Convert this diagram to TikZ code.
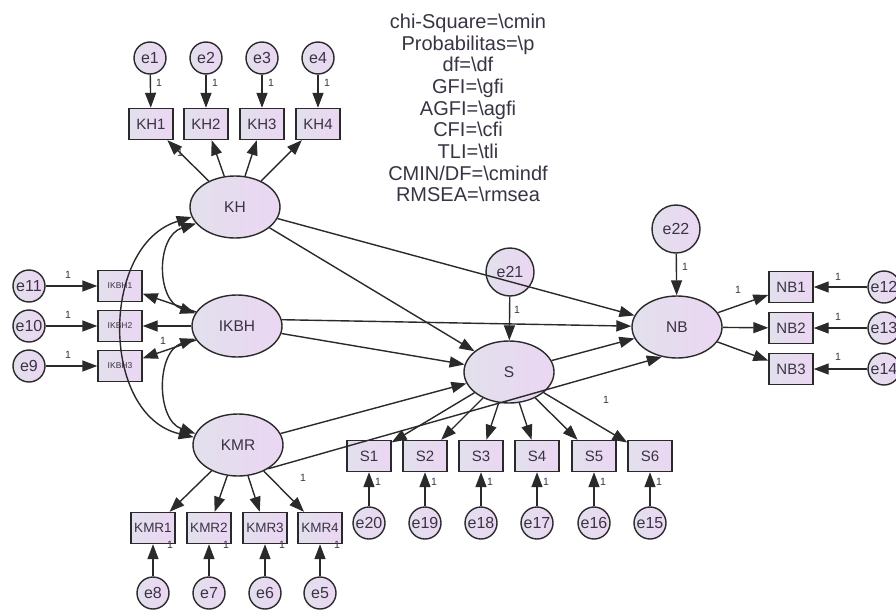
\documentclass[tikz,border=0pt]{standalone}
\usepackage{fontspec}
\setmainfont{Liberation Sans}
\usetikzlibrary{shapes.geometric,arrows.meta}
\definecolor{ln}{HTML}{2A2A2A}
\definecolor{tx}{HTML}{3A3344}
\definecolor{fa}{HTML}{E2E0EC}
\definecolor{fb}{HTML}{EBD6F3}
\tikzset{
 base/.style={draw=ln, line width=1.4pt, text=tx, inner sep=0pt, left color=fa, right color=fb},
 lat/.style={base, ellipse, minimum width=90pt, minimum height=62pt, font=\fontsize{15.5}{18}\selectfont},
 obs/.style={base, rectangle, minimum width=44pt, minimum height=31pt, font=\fontsize{15}{18}\selectfont},
 err/.style={base, circle, minimum size=32pt, font=\fontsize{16}{18}\selectfont},
 bigerr/.style={err, minimum size=48pt},
 arr/.style={draw=ln, line width=1.4pt, -{Triangle[length=15pt,width=11pt]}},
 cov/.style={draw=ln, line width=1.4pt, {Triangle[length=15pt,width=11pt]}-{Triangle[length=15pt,width=11pt]}},
 one/.style={font=\fontsize{10.5}{12}\selectfont, text=tx, inner sep=0pt},
 fitstats/.style={font=\fontsize{20}{21.7}\selectfont, text=tx, align=center, inner sep=0pt}
}
\begin{document}
\begin{tikzpicture}[x=1pt,y=-1pt]
\useasboundingbox[fill=white] (0,0) rectangle (896,610);

% fit statistics
\node[fitstats] (stats) at (468,108) {chi-Square=\textbackslash cmin\\Probabilitas=\textbackslash p\\df=\textbackslash df\\GFI=\textbackslash gfi\\AGFI=\textbackslash agfi\\CFI=\textbackslash cfi\\TLI=\textbackslash tli\\CMIN/DF=\textbackslash cmindf\\RMSEA=\textbackslash rmsea};

% latent variables
\node[lat] (KH) at (235,207) {KH};
\node[lat] (IKBH) at (237,326) {IKBH};
\node[lat] (KMR) at (238,445) {KMR};
\node[lat] (S) at (509,372) {S};
\node[lat] (NB) at (677,327) {NB};

% KH indicators
\node[obs] (KH1) at (151,124) {KH1};
\node[obs] (KH2) at (206,124) {KH2};
\node[obs] (KH3) at (262,124) {KH3};
\node[obs] (KH4) at (318,124) {KH4};
\node[err] (e1) at (150,58) {e1};
\node[err] (e2) at (206,58) {e2};
\node[err] (e3) at (262,58) {e3};
\node[err] (e4) at (318,58) {e4};

% IKBH indicators
\node[obs, font=\fontsize{8.5}{10}\selectfont] (IKBH1) at (120,286) {IKBH1};
\node[obs, font=\fontsize{8.5}{10}\selectfont] (IKBH2) at (120,326) {IKBH2};
\node[obs, font=\fontsize{8.5}{10}\selectfont] (IKBH3) at (120,366) {IKBH3};
\node[err] (e11) at (29,286) {e11};
\node[err] (e10) at (29,326) {e10};
\node[err] (e9) at (29,366) {e9};

% KMR indicators
\node[obs, font=\fontsize{13.5}{16}\selectfont] (KMR1) at (153,528) {KMR1};
\node[obs, font=\fontsize{13.5}{16}\selectfont] (KMR2) at (209,528) {KMR2};
\node[obs, font=\fontsize{13.5}{16}\selectfont] (KMR3) at (265,528) {KMR3};
\node[obs, font=\fontsize{13.5}{16}\selectfont] (KMR4) at (320,528) {KMR4};
\node[err] (e8) at (153,593) {e8};
\node[err] (e7) at (209,593) {e7};
\node[err] (e6) at (265,593) {e6};
\node[err] (e5) at (320,593) {e5};

% S indicators
\node[obs] (S1) at (369,456) {S1};
\node[obs] (S2) at (425,456) {S2};
\node[obs] (S3) at (481,456) {S3};
\node[obs] (S4) at (537,456) {S4};
\node[obs] (S5) at (594,456) {S5};
\node[obs] (S6) at (650,456) {S6};
\node[err] (e20) at (369,523) {e20};
\node[err] (e19) at (425,523) {e19};
\node[err] (e18) at (481,523) {e18};
\node[err] (e17) at (537,523) {e17};
\node[err] (e16) at (594,523) {e16};
\node[err] (e15) at (650,523) {e15};

% NB indicators
\node[obs] (NB1) at (791,287) {NB1};
\node[obs] (NB2) at (791,328) {NB2};
\node[obs] (NB3) at (791,369) {NB3};
\node[err] (e12) at (884,287) {e12};
\node[err] (e13) at (884,328) {e13};
\node[err] (e14) at (884,369) {e14};

% disturbances
\node[bigerr] (e21) at (510,272) {e21};
\node[bigerr] (e22) at (676,229) {e22};

% error -> indicator
\foreach \e/\b in {e1/KH1,e2/KH2,e3/KH3,e4/KH4,e11/IKBH1,e10/IKBH2,e9/IKBH3,
  e8/KMR1,e7/KMR2,e6/KMR3,e5/KMR4,e20/S1,e19/S2,e18/S3,e17/S4,e16/S5,e15/S6,
  e12/NB1,e13/NB2,e14/NB3,e21/S,e22/NB}
  \draw[arr] (\e) -- (\b);

% latent -> indicator
\foreach \l/\b in {KH/KH1,KH/KH2,KH/KH3,KH/KH4,IKBH/IKBH1,IKBH/IKBH2,IKBH/IKBH3,
  KMR/KMR1,KMR/KMR2,KMR/KMR3,KMR/KMR4,S/S1,S/S2,S/S3,S/S4,S/S5,S/S6,
  NB/NB1,NB/NB2,NB/NB3}
  \draw[arr] (\l) -- (\b);

% structural paths
\draw[arr] (KH) -- (S);
\draw[arr] (KH) -- (NB);
\draw[arr] (IKBH.8) -- (NB);
\draw[arr] (IKBH) -- (S);
\draw[arr] (KMR) -- (S);
\draw[arr] (KMR.-38) -- (NB.243);
\draw[arr] (S) -- (NB);

% covariances
\draw[cov] (KH.203) .. controls (156,236) and (156,300) .. (IKBH.163);
\draw[cov] (IKBH.197) .. controls (156,352) and (156,420) .. (KMR.165);
\draw[cov] (KH.193) .. controls (100,245) and (100,415) .. (KMR.170);

% regression weight labels
\foreach \x in {159,215,271,327} \node[one] at (\x,83) {1};
\node[one] at (180,153) {1};
\foreach \y in {275,315,355} \node[one] at (68,\y) {1};
\node[one] at (163,341) {1};
\foreach \x in {170,226,282,337} \node[one] at (\x,545) {1};
\node[one] at (303,478) {1};
\foreach \x in {378,434,490,546,603,659} \node[one] at (\x,482) {1};
\node[one] at (606,400) {1};
\node[one] at (517,310) {1};
\node[one] at (685,267) {1};
\node[one] at (738,290) {1};
\foreach \y in {277,317,357} \node[one] at (838,\y) {1};
\end{tikzpicture}
\end{document}
